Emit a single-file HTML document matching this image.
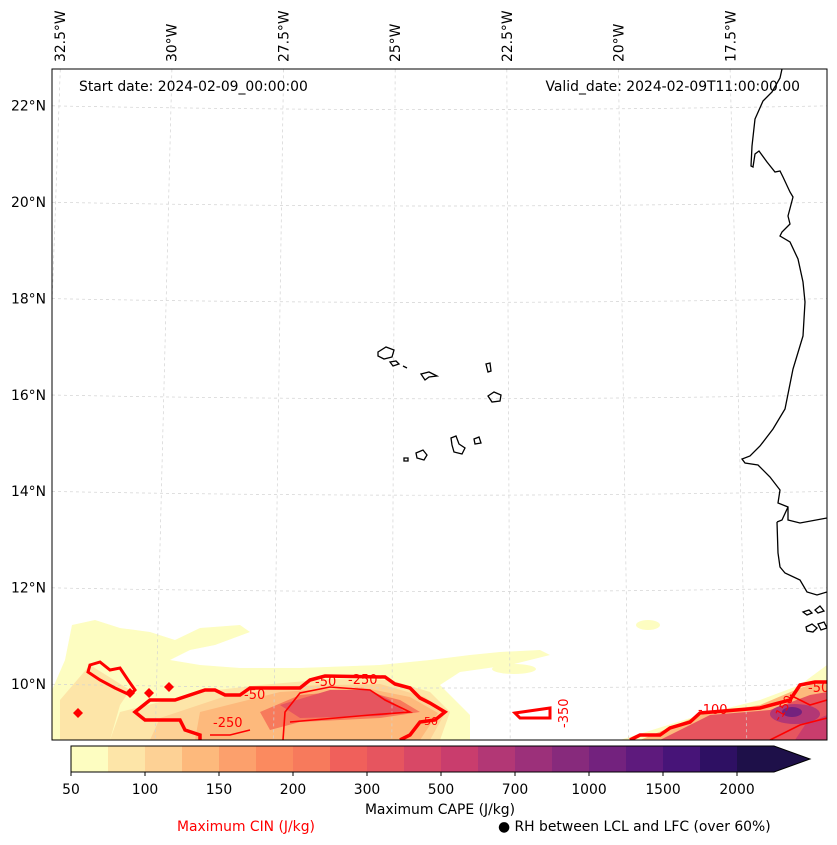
<!DOCTYPE html>
<html><head><meta charset="utf-8"><style>
html,body{margin:0;padding:0;background:#fff;}
svg{display:block;font-family:"DejaVu Sans","Liberation Sans",sans-serif;}
</style></head><body>
<svg id="chart" width="837" height="845" viewBox="0 0 837 845">
<defs><clipPath id="mapclip"><rect x="52" y="69" width="775" height="671"/></clipPath></defs>
<g id="map" clip-path="url(#mapclip)">
 <g id="fills">
  <polygon fill="#fdfdc1" points="72,625 95,620 120,628 150,632 175,640 200,628 240,625 250,632 215,645 190,650 170,660 200,665 240,668 300,668 380,665 430,660 470,655 500,652 540,650 550,655 510,665 460,672 440,685 455,700 470,715 470,740 52,740 52,690 65,660"/>
  <ellipse fill="#fdfdc1" cx="514" cy="669" rx="22" ry="5"/>
  <ellipse fill="#fdfdc1" cx="648" cy="625" rx="12" ry="5"/>
  <polygon fill="#fdfdc1" points="620,740 700,715 760,700 800,685 827,665 827,740"/>
  <polygon fill="#fde5a8" points="60,700 90,665 130,690 120,705 110,740 60,740"/>
  <polygon fill="#fde5a8" points="120,712 200,692 260,685 330,679 390,680 430,692 450,712 440,740 110,740"/>
  <polygon fill="#fdd195" points="160,718 220,698 290,686 380,684 425,697 445,713 430,740 150,740"/>
  <polygon fill="#fdb97c" points="200,712 280,692 360,687 410,697 438,713 420,740 195,740"/>
  <polygon fill="#f77a5c" points="260,712 300,695 360,690 400,700 420,712 380,718 300,722 270,730"/>
  <polygon fill="#e6555f" points="280,705 330,690 370,690 390,700 405,712 380,716 300,718"/>
  <polygon fill="#fdb97c" points="640,740 700,715 760,705 800,688 827,680 827,740"/>
  <polygon fill="#e6555f" points="660,740 710,715 770,710 810,695 827,692 827,740"/>
  <ellipse fill="#b23775" cx="795" cy="714" rx="25" ry="10"/>
  <ellipse fill="#73227e" cx="792" cy="712" rx="10" ry="5"/>
  <polygon fill="#c93d6d" points="805,725 827,715 827,740 795,740"/>
 </g>
 <g id="grid" stroke="#d2d2d2" stroke-width="0.7" stroke-dasharray="3,3" fill="none"></g>
 <g id="coast" fill="none" stroke="#000" stroke-width="1.3">
  <polyline points="782,69 780,78 772,92 763,101 755,119 752,146 751,166 753,167 755,154 759,151 767,162 775,172 780,171 783,177 790,192 793,197 788,216 790,224 782,232 780,236 790,242 798,259 803,282 805,302 803,336 793,369 785,409 773,429 760,446 750,456 742,459 745,463 758,465 770,477 780,490 778,503 788,507 788,520 800,523 827,518"/>
  <polyline points="777,522 778,553 780,567 785,573 800,580 807,592 817,595 827,592"/>
  <polyline points="788,507 782,520 777,522"/>
  <path d="M803,612 l6,-2 l3,3 l-5,2z M815,610 l5,-4 l4,5 l-6,2z M806,627 l6,-3 l5,4 l-4,4 l-6,-1z M818,624 l6,-2 l3,6 l-6,2z"/>
  <g>
   <path d="M378,352 l8,-5 l8,3 l-2,7 l-8,2 l-6,-3z"/>
   <path d="M390,362 l6,-1 l3,3 l-6,2z"/>
   <path d="M403,366 l4,2"/>
   <path d="M421,374 l8,-2 l8,4 l-8,1 l-4,3z"/>
   <path d="M486,364 l4,-1 l1,8 l-3,1z"/>
   <path d="M488,396 l6,-4 l7,3 l-1,6 l-8,1z"/>
   <path d="M451,438 l5,-2 l3,8 l6,4 l-3,6 l-8,-2 l-2,-7z"/>
   <path d="M474,439 l5,-2 l2,6 l-6,1z"/>
   <path d="M416,453 l7,-3 l4,5 l-3,5 l-7,-2z"/>
   <path d="M404,458 l4,0 l0,3 l-4,0z"/>
  </g>
 </g>
 <g id="cin" fill="none" stroke="#ff0000">
  <polyline stroke-width="3.5" stroke-linejoin="miter" points="200,740 200,735 185,730 180,720 145,720 135,712 150,700 175,700 205,690 215,690 225,695 240,695 250,688 300,688 310,680 325,676 385,677 395,684 410,688 420,698 430,703 445,712 435,720 420,722 410,735 400,740"/>
  <polygon stroke-width="3" points="90,665 100,662 110,670 120,668 128,680 135,690 130,695 115,688 100,680 88,672"/>
  <polyline stroke-width="1.6" points="283,740 285,712 300,693 330,687 370,690 385,700 410,712 370,715 290,722"/>
  <polyline stroke-width="1.6" points="210,735 230,735 250,730"/>
  <polygon stroke-width="3" points="515,713 550,708 550,718 520,718"/>
  <polyline stroke-width="3.5" points="630,740 640,735 660,735 670,728 690,722 700,713 760,708 790,700 800,685 815,682 827,682"/>
  <polyline stroke-width="1.6" points="770,740 800,725 827,718"/>
  <polyline stroke-width="1.6" points="790,695 810,705 827,700"/>
  <g fill="#ff0000" stroke="none">
   <polygon points="78,708 83,713 78,718 73,713"/>
   <polygon points="130,688 135,693 130,698 125,693"/>
   <polygon points="149,688 154,693 149,698 144,693"/>
   <polygon points="169,682 174,687 169,692 164,687"/>
  </g>
  <g fill="#ff0000" stroke="none" font-size="13">
   <text x="244" y="699">-50</text>
   <text x="213" y="727">-250</text>
   <text x="348" y="684">-250</text>
   <text x="315" y="686">-50</text>
   <text x="420" y="725" font-size="11">-50</text>
   <text x="698" y="714">-100</text>
   <text x="808" y="692">-50</text>
   <text transform="translate(568,728) rotate(-90)">-350</text>
   <text transform="translate(780,722) rotate(-60)" font-size="12">-150</text>
  </g>
 </g>
</g>
<rect x="52" y="69" width="775" height="671" fill="none" stroke="#000" stroke-width="1"/>
<g id="lonlabels" font-size="13.9"></g>
<g id="latlabels" font-size="13.9"></g>
<text x="79" y="91" font-size="13.9">Start date: 2024-02-09_00:00:00</text>
<text x="800" y="91" font-size="13.9" text-anchor="end">Valid_date: 2024-02-09T11:00:00.00</text>
<g id="colorbar"></g>
<text x="440" y="814" font-size="13.9" text-anchor="middle">Maximum CAPE (J/kg)</text>
<text x="246" y="831" font-size="13.9" fill="#ff0000" text-anchor="middle">Maximum CIN (J/kg)</text>
<text x="498" y="831" font-size="13.9">● RH between LCL and LFC (over 60%)</text>
</svg>
<script>
const levels=[50,75,100,125,150,175,200,250,300,400,500,600,700,800,1000,1250,1500,1750,2000];
const tickLevels=[50,100,150,200,300,500,700,1000,1500,2000];
const colors=["#fdfdc1","#fde5a8","#fdd195","#fdb97c","#fca06c","#fb8a5f","#f77a5c","#f0605b","#e6555f","#d84866","#c93d6d","#b23775","#9c307a","#872a7c","#73227e","#5e1a7d","#471478","#2e1063","#1e1049"];
const lons=[-32.5,-30,-27.5,-25,-22.5,-20,-17.5];
const lonLabels=["32.5°W","30°W","27.5°W","25°W","22.5°W","20°W","17.5°W"];
const lats=[22,20,18,16,14,12,10];
const latLabels=["22°N","20°N","18°N","16°N","14°N","12°N","10°N"];
const NS="http://www.w3.org/2000/svg";
function mk(t,a,p){const e=document.createElementNS(NS,t);for(const k in a)e.setAttribute(k,a[k]);p.appendChild(e);return e;}
function py(lat){return 684-(lat-10)*48.2;}
function px(lon,lat){const k=44.8+(22-lat)*(2.5/13);return 451+(lon+23.75)*k;}
const grid=document.getElementById('grid');
lons.forEach(function(lo){
  const l=mk('line',{x1:px(lo,23),y1:py(23),x2:px(lo,8.8),y2:py(8.8)},grid);
  
  
});
lats.forEach(function(la){
  const y=py(la);
  const p=mk('path',{d:'M40,'+y+' Q440,'+(y+8)+' 840,'+y},grid);
  
  
});
const lg=document.getElementById('lonlabels');
lons.forEach(function(lo,i){
  const x=px(lo,22.6)+5;
  const t=mk('text',{transform:'translate('+x+',62) rotate(-90)'},lg);
  t.textContent=lonLabels[i];
  
  
});
const ag=document.getElementById('latlabels');
lats.forEach(function(la,i){
  const t=mk('text',{x:46,y:py(la)+5,'text-anchor':'end'},ag);
  t.textContent=latLabels[i];
  
  
});
const cb=document.getElementById('colorbar');
const cbX=71,cbY=746,cbH=26,bw=37;
function cbx(i){return cbX+i*bw;}
colors.forEach(function(c,i){
  const r=mk('rect',{x:cbx(i),y:cbY,width:bw+0.5,height:cbH,fill:c},cb);
  
  
});
const endX=cbx(colors.length);
const ar=mk('polygon',{points:endX+','+cbY+' '+(endX+36)+','+(cbY+cbH/2)+' '+endX+','+(cbY+cbH),fill:colors[colors.length-1]},cb);


mk('polygon',{points:cbX+','+cbY+' '+endX+','+cbY+' '+(endX+36)+','+(cbY+cbH/2)+' '+endX+','+(cbY+cbH)+' '+cbX+','+(cbY+cbH),fill:'none',stroke:'#000','stroke-width':1},cb);
tickLevels.forEach(function(v){
  const i=levels.indexOf(v);
  const x=cbx(i);
  mk('line',{x1:x,y1:cbY+cbH,x2:x,y2:cbY+cbH+4,stroke:'#000'},cb);
  const t=mk('text',{x:x,y:794,'text-anchor':'middle','font-size':13.9},cb);
  t.textContent=String(v);
  
  
});
</script>
</body></html>
